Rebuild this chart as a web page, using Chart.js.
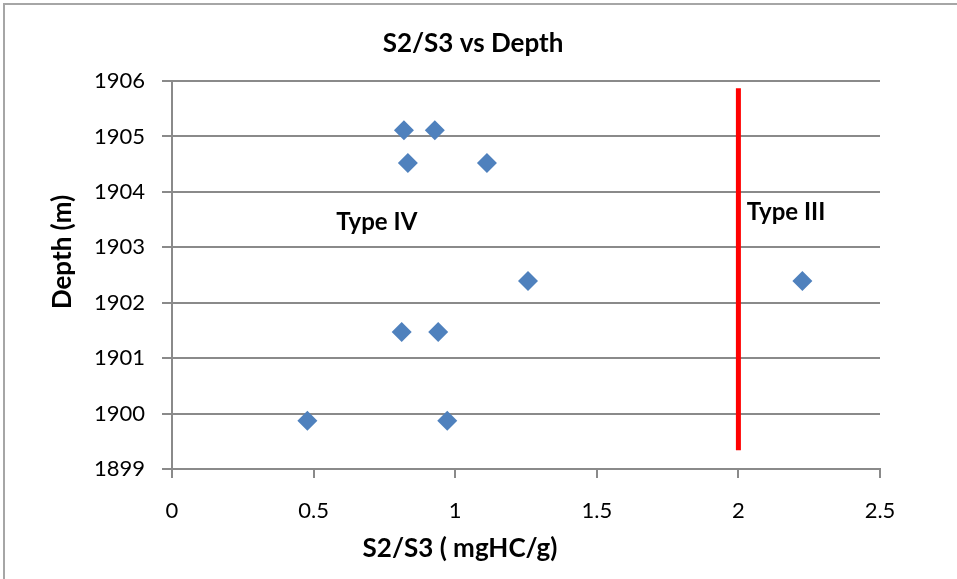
<!DOCTYPE html>
<html>
<head>
<meta charset="utf-8">
<script src="https://cdn.jsdelivr.net/npm/chart.js@4/dist/chart.umd.min.js"></script>
<style>
  html, body { margin: 0; padding: 0; background: #fff; }
  canvas { display: block; }
</style>
</head>
<body>
<canvas id="c" width="957" height="579"></canvas>
<script>
// ---- data ----
const s2s3Values = [0.819, 0.928, 0.833, 1.112, 1.257, 2.226, 0.811, 0.940, 0.478, 0.972];
const depthValues = [1905.11, 1905.11, 1904.52, 1904.52, 1902.39, 1902.39, 1901.47, 1901.47, 1899.87, 1899.87];
const boundaryX = [2.0, 2.0];
const boundaryY = [1905.87, 1899.34];
const xTickValues = [0, 0.5, 1, 1.5, 2, 2.5];
const yTickValues = [1899, 1900, 1901, 1902, 1903, 1904, 1905, 1906];
const chartTitle = 'S2/S3 vs Depth';
const xAxisTitle = 'S2/S3 ( mgHC/g)';
const yAxisTitle = 'Depth (m)';
const regionLabels = ['Type IV', 'Type III'];
const regionLabelX = [0.723, 2.168];
const regionLabelY = [1903.31, 1903.49];

const FONT = 'Lato, "Open Sans", "Liberation Sans", sans-serif';

const points = s2s3Values.map((v, i) => ({ x: v, y: depthValues[i] }));
const boundary = boundaryX.map((v, i) => ({ x: v, y: boundaryY[i] }));

const decor = {
  id: 'decor',
  beforeDraw(chart) {
    const ctx = chart.ctx;
    ctx.save();
    ctx.fillStyle = '#ffffff';
    ctx.fillRect(0, 0, chart.width, chart.height);
    ctx.strokeStyle = '#a6a6a6';
    ctx.lineWidth = 2;
    ctx.beginPath();
    ctx.moveTo(4, chart.height);
    ctx.lineTo(4, 4);
    ctx.lineTo(chart.width, 4);
    ctx.stroke();
    ctx.restore();
  },
  afterDraw(chart) {
    const ctx = chart.ctx;
    const xs = chart.scales.x, ys = chart.scales.y;
    ctx.save();
    ctx.fillStyle = '#000000';
    ctx.textBaseline = 'alphabetic';
    ctx.textAlign = 'center';
    ctx.font = 'bold 26px ' + FONT;
    ctx.fillText(chartTitle, 473, 52);
    ctx.fillText(xAxisTitle, 460, 557);
    ctx.save();
    ctx.translate(71, 252);
    ctx.rotate(-Math.PI / 2);
    ctx.fillText(yAxisTitle, 0, 0);
    ctx.restore();
    ctx.font = 'bold 24px ' + FONT;
    regionLabels.forEach((t, i) => {
      ctx.fillText(t, xs.getPixelForValue(regionLabelX[i]), ys.getPixelForValue(regionLabelY[i]));
    });
    ctx.restore();
  }
};

new Chart(document.getElementById('c'), {
  type: 'scatter',
  data: {
    datasets: [
      {
        label: 'S2/S3',
        data: points,
        pointStyle: 'rectRot',
        pointRadius: 10,
        pointHoverRadius: 10,
        backgroundColor: '#4F81BD',
        borderColor: '#4F81BD',
        pointBorderWidth: 0,
        showLine: false
      },
      {
        label: 'Boundary',
        data: boundary,
        showLine: true,
        borderColor: '#FF0000',
        borderWidth: 5,
        pointRadius: 0,
        fill: false
      }
    ]
  },
  options: {
    responsive: false,
    devicePixelRatio: 1,
    animation: false,
    layout: { padding: { left: 92, top: 81, right: 77, bottom: 50 } },
    plugins: {
      legend: { display: false },
      tooltip: { enabled: false },
      title: { display: false }
    },
    scales: {
      x: {
        type: 'linear',
        min: 0,
        max: 2.5,
        afterBuildTicks: s => { s.ticks = xTickValues.map(v => ({ value: v })); },
        afterFit: s => { s.height = 60; },
        ticks: {
          color: '#000000',
          font: { family: FONT, size: 22 },
          padding: 20,
          callback: v => String(v)
        },
        grid: {
          drawOnChartArea: false,
          drawTicks: true,
          tickLength: 9,
          color: '#8a8a8a',
          lineWidth: 2
        },
        border: { display: true, color: '#8a8a8a', width: 2 }
      },
      y: {
        type: 'linear',
        min: 1899,
        max: 1906,
        afterBuildTicks: s => { s.ticks = yTickValues.map(v => ({ value: v })); },
        afterFit: s => { s.width = 80; },
        ticks: {
          color: '#000000',
          font: { family: FONT, size: 22 },
          padding: 17,
          callback: v => String(v)
        },
        grid: {
          drawOnChartArea: true,
          drawTicks: true,
          tickLength: 10,
          color: '#8a8a8a',
          lineWidth: 2
        },
        border: { display: true, color: '#8a8a8a', width: 2 }
      }
    }
  },
  plugins: [decor]
});
</script>
</body>
</html>
